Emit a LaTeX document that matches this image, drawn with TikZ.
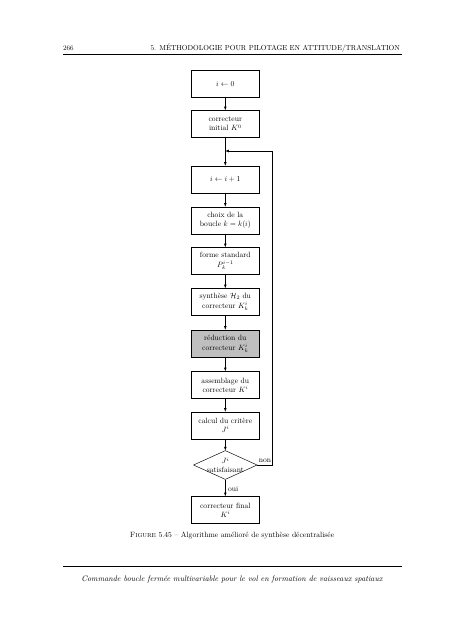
\documentclass[tikz,border=0pt]{standalone}
\usepackage{amsmath,amssymb}
\usetikzlibrary{positioning,shapes.geometric}

\tikzset{
	etape/.style={draw,semithick,minimum width=90pt,minimum height=36pt,align=center,inner sep=2pt},
	etapegrise/.style={etape,fill=black!25},
	test/.style={draw,semithick,diamond,aspect=2.2,inner xsep=-1.5pt,inner ysep=-1pt,align=center},
	fleche/.style={semithick,-latex}
}

\begin{document}
\begin{tikzpicture}[x=1.314pt,y=-1.314pt]
		\useasboundingbox (0,0) rectangle (453,640);

		% en-tete de page
		\node[anchor=base west,inner sep=0]	(page)	at (63,50)	{\small 266};
		\node[anchor=base east,inner sep=0]	(titre)	at (400,50)	{\fontsize{9.6}{11}\selectfont 5. MÉTHODOLOGIE POUR PILOTAGE EN ATTITUDE/TRANSLATION};
		\draw[semithick] (63,54.5) -- (402,54.5);

		\node[etape]		(init)		at (225.3,83.5)	{$i \leftarrow 0$};
		\node[etape]		(corr)		at (225.3,124)	{correcteur\\initial $K^0$};
		\node[etape]		(incr)		at (225.3,179.5)	{$i \leftarrow i+1$};
		\node[etape]		(choix)		at (225.3,220.5)	{choix de la\\boucle $k=k(i)$};
		\node[etape]		(forme)		at (225.3,261)	{forme standard\\[1pt]$P_k^{i-1}$};
		\node[etape]		(synth)		at (225.3,302)	{synthèse $\mathcal{H}_2$ du\\[1pt]correcteur $K_k^i$};
		\node[etapegrise]	(reduc)		at (225.3,343.5)	{réduction du\\[1pt]correcteur $K_k^i$};
		\node[etape]		(assem)		at (225.3,385)	{assemblage du\\correcteur $K^i$};
		\node[etape]		(critere)	at (225.3,425.5)	{calcul du critère\\$J^i$};
		\node[test]			(satisf)	at (225.3,465)	{$J^i$\\[-1pt]satisfaisant};
		\node[etape]		(final)		at (225.3,510)	{correcteur final\\$K^i$};

		\coordinate			(jonction)	at (225.3,151);
		\coordinate			(retour)	at (272.7,151);

		\draw[fleche]	(init)		-- (corr);
		\draw[fleche]	(corr)		-- (incr);
		\draw[fleche]	(incr)		-- (choix);
		\draw[fleche]	(choix)		-- (forme);
		\draw[fleche]	(forme)		-- (synth);
		\draw[fleche]	(synth)		-- (reduc);
		\draw[fleche]	(reduc)		-- (assem);
		\draw[fleche]	(assem)		-- (critere);
		\draw[fleche]	(critere)	-- (satisf);
		\draw[fleche]	(satisf)	-- node[right,pos=0.6]{oui} (final);
		\draw[fleche]	(satisf.east) -- node[above]{non} (satisf.east -| retour) -- (retour) -- (jonction);

		\node			(legende)	at (232,536)	{\textsc{Figure} 5.45 -- Algorithme amélioré de synthèse décentralisée};

		% pied de page
		\draw[semithick] (63,566.7) -- (402,566.7);
		\node			(pied)		at (232,579)	{\fontsize{10.5}{12}\selectfont\itshape Commande boucle fermée multivariable pour le vol en formation de vaisseaux spatiaux};
	\end{tikzpicture}
\end{document}
